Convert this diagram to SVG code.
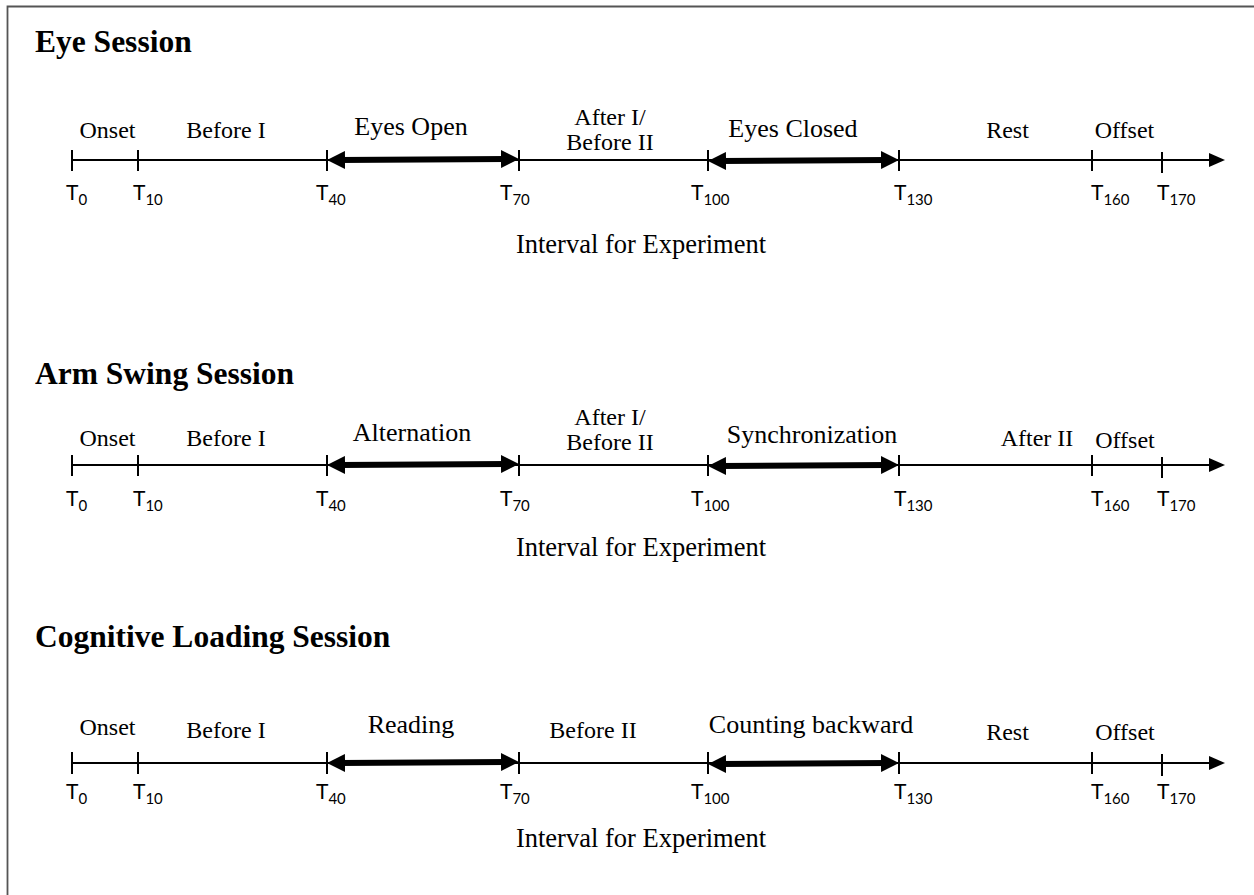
<svg xmlns="http://www.w3.org/2000/svg" width="1254" height="895" viewBox="0 0 1254 895">
  <style>
    .title { font-family: "Liberation Serif", "Times New Roman", serif; font-weight: bold; font-size: 31.5px; fill: #000; }
    .seg { font-family: "Liberation Serif", "Times New Roman", serif; font-size: 24px; fill: #000; text-anchor: middle; }
    .phase { font-family: "Liberation Serif", "Times New Roman", serif; font-size: 26px; fill: #000; text-anchor: middle; }
    .interval { font-family: "Liberation Serif", "Times New Roman", serif; font-size: 26.5px; fill: #000; text-anchor: middle; }
    .tick-label { font-family: "Lato", "Open Sans", sans-serif; font-size: 21px; fill: #000; }
    .sub { font-size: 15px; }
    .axis { stroke: #000; stroke-width: 2; fill: none; }
    .tick { stroke: #000; stroke-width: 2; }
    .phase-arrow { stroke: #000; stroke-width: 6; fill: none; }
  </style>
  <defs>
    <marker id="axisHead" markerUnits="userSpaceOnUse" markerWidth="16" markerHeight="14" viewBox="0 0 16 14" refX="4" refY="7" orient="auto">
      <path d="M0,0 L16,7 L0,14 z" fill="#000"/>
    </marker>
    <marker id="phaseHead" markerUnits="userSpaceOnUse" markerWidth="18" markerHeight="18" viewBox="0 0 18 18" refX="6" refY="9" orient="auto-start-reverse">
      <path d="M0,0 L18,9 L0,18 z" fill="#000"/>
    </marker>
  </defs>

  <rect width="1254" height="895" fill="#fff"/>
  <!-- frame: top and left edges -->
  <path d="M7.5,895 V6.5 H1254" fill="none" stroke="#555" stroke-width="1.8"/>

  <!-- Eye session -->
  <g id="eye-session">
    <text class="title" x="35" y="52">Eye Session</text>
    <text class="seg" x="107.5" y="138">Onset</text>
    <text class="seg" x="226" y="138">Before I</text>
    <text class="phase" x="411" y="135">Eyes Open</text>
    <text class="seg" x="610" y="125">After I/</text>
    <text class="seg" x="610" y="150">Before II</text>
    <text class="phase" x="793" y="137">Eyes Closed</text>
    <text class="seg" x="1007.5" y="138">Rest</text>
    <text class="seg" x="1124.5" y="138">Offset</text>
    <g class="tick">
      <line x1="72" y1="150" x2="72" y2="171"/>
      <line x1="138" y1="150" x2="138" y2="171"/>
      <line x1="327" y1="150" x2="327" y2="171"/>
      <line x1="519" y1="150" x2="519" y2="171"/>
      <line x1="708" y1="150" x2="708" y2="171"/>
      <line x1="899" y1="150" x2="899" y2="171"/>
      <line x1="1092" y1="150" x2="1092" y2="171"/>
      <line x1="1162" y1="152" x2="1162" y2="173"/>
    </g>
    <g class="tick-label">
      <text x="66" y="200">T<tspan class="sub" dy="5">0</tspan></text>
      <text x="133" y="200">T<tspan class="sub" dy="5">10</tspan></text>
      <text x="316" y="200">T<tspan class="sub" dy="5">40</tspan></text>
      <text x="500" y="200">T<tspan class="sub" dy="5">70</tspan></text>
      <text x="691" y="200">T<tspan class="sub" dy="5">100</tspan></text>
      <text x="894" y="200">T<tspan class="sub" dy="5">130</tspan></text>
      <text x="1091" y="200">T<tspan class="sub" dy="5">160</tspan></text>
      <text x="1157" y="200">T<tspan class="sub" dy="5">170</tspan></text>
    </g>
    <text class="interval" x="641" y="253">Interval for Experiment</text>
  </g>

  <!-- Arm swing session -->
  <g id="arm-swing-session">
    <text class="title" x="35" y="384">Arm Swing Session</text>
    <text class="seg" x="107.5" y="446">Onset</text>
    <text class="seg" x="226" y="446">Before I</text>
    <text class="phase" x="412" y="441">Alternation</text>
    <text class="seg" x="610" y="425">After I/</text>
    <text class="seg" x="610" y="450">Before II</text>
    <text class="phase" x="812" y="443">Synchronization</text>
    <text class="seg" x="1037" y="446">After II</text>
    <text class="seg" x="1125" y="448">Offset</text>
    <g class="tick">
      <line x1="72" y1="455" x2="72" y2="476"/>
      <line x1="138" y1="455" x2="138" y2="476"/>
      <line x1="327" y1="455" x2="327" y2="476"/>
      <line x1="519" y1="455" x2="519" y2="476"/>
      <line x1="708" y1="455" x2="708" y2="476"/>
      <line x1="899" y1="455" x2="899" y2="476"/>
      <line x1="1092" y1="455" x2="1092" y2="476"/>
      <line x1="1162" y1="457" x2="1162" y2="478"/>
    </g>
    <g class="tick-label">
      <text x="66" y="506">T<tspan class="sub" dy="5">0</tspan></text>
      <text x="133" y="506">T<tspan class="sub" dy="5">10</tspan></text>
      <text x="316" y="506">T<tspan class="sub" dy="5">40</tspan></text>
      <text x="500" y="506">T<tspan class="sub" dy="5">70</tspan></text>
      <text x="691" y="506">T<tspan class="sub" dy="5">100</tspan></text>
      <text x="894" y="506">T<tspan class="sub" dy="5">130</tspan></text>
      <text x="1091" y="506">T<tspan class="sub" dy="5">160</tspan></text>
      <text x="1157" y="506">T<tspan class="sub" dy="5">170</tspan></text>
    </g>
    <text class="interval" x="641" y="556">Interval for Experiment</text>
  </g>

  <!-- Cognitive loading session -->
  <g id="cognitive-loading-session">
    <text class="title" x="35" y="647">Cognitive Loading Session</text>
    <text class="seg" x="107.5" y="735">Onset</text>
    <text class="seg" x="226" y="738">Before I</text>
    <text class="phase" x="411" y="733">Reading</text>
    <text class="seg" x="593" y="738">Before II</text>
    <text class="phase" x="811" y="733">Counting backward</text>
    <text class="seg" x="1007.5" y="740">Rest</text>
    <text class="seg" x="1125" y="740">Offset</text>
    <g class="tick">
      <line x1="72" y1="752" x2="72" y2="774"/>
      <line x1="138" y1="752" x2="138" y2="774"/>
      <line x1="327" y1="752" x2="327" y2="774"/>
      <line x1="519" y1="752" x2="519" y2="774"/>
      <line x1="708" y1="752" x2="708" y2="774"/>
      <line x1="899" y1="752" x2="899" y2="774"/>
      <line x1="1092" y1="752" x2="1092" y2="774"/>
      <line x1="1162" y1="754" x2="1162" y2="776"/>
    </g>
    <g class="tick-label">
      <text x="66" y="799">T<tspan class="sub" dy="5">0</tspan></text>
      <text x="133" y="799">T<tspan class="sub" dy="5">10</tspan></text>
      <text x="316" y="799">T<tspan class="sub" dy="5">40</tspan></text>
      <text x="500" y="799">T<tspan class="sub" dy="5">70</tspan></text>
      <text x="691" y="799">T<tspan class="sub" dy="5">100</tspan></text>
      <text x="894" y="799">T<tspan class="sub" dy="5">130</tspan></text>
      <text x="1091" y="799">T<tspan class="sub" dy="5">160</tspan></text>
      <text x="1157" y="799">T<tspan class="sub" dy="5">170</tspan></text>
    </g>
    <text class="interval" x="641" y="847">Interval for Experiment</text>
  </g>

  <!-- time axes and phase arrows -->
  <g id="connectors">
    <line class="axis" x1="72" y1="160" x2="1213" y2="160" marker-end="url(#axisHead)"/>
    <line class="phase-arrow" x1="339" y1="160" x2="507" y2="159" marker-start="url(#phaseHead)" marker-end="url(#phaseHead)"/>
    <line class="phase-arrow" x1="720" y1="161" x2="887" y2="160" marker-start="url(#phaseHead)" marker-end="url(#phaseHead)"/>

    <line class="axis" x1="72" y1="465" x2="1213" y2="465" marker-end="url(#axisHead)"/>
    <line class="phase-arrow" x1="339" y1="465" x2="507" y2="464" marker-start="url(#phaseHead)" marker-end="url(#phaseHead)"/>
    <line class="phase-arrow" x1="720" y1="466" x2="887" y2="465" marker-start="url(#phaseHead)" marker-end="url(#phaseHead)"/>

    <line class="axis" x1="72" y1="763" x2="1213" y2="763" marker-end="url(#axisHead)"/>
    <line class="phase-arrow" x1="339" y1="763" x2="507" y2="762" marker-start="url(#phaseHead)" marker-end="url(#phaseHead)"/>
    <line class="phase-arrow" x1="720" y1="764" x2="887" y2="763" marker-start="url(#phaseHead)" marker-end="url(#phaseHead)"/>
  </g>
</svg>
